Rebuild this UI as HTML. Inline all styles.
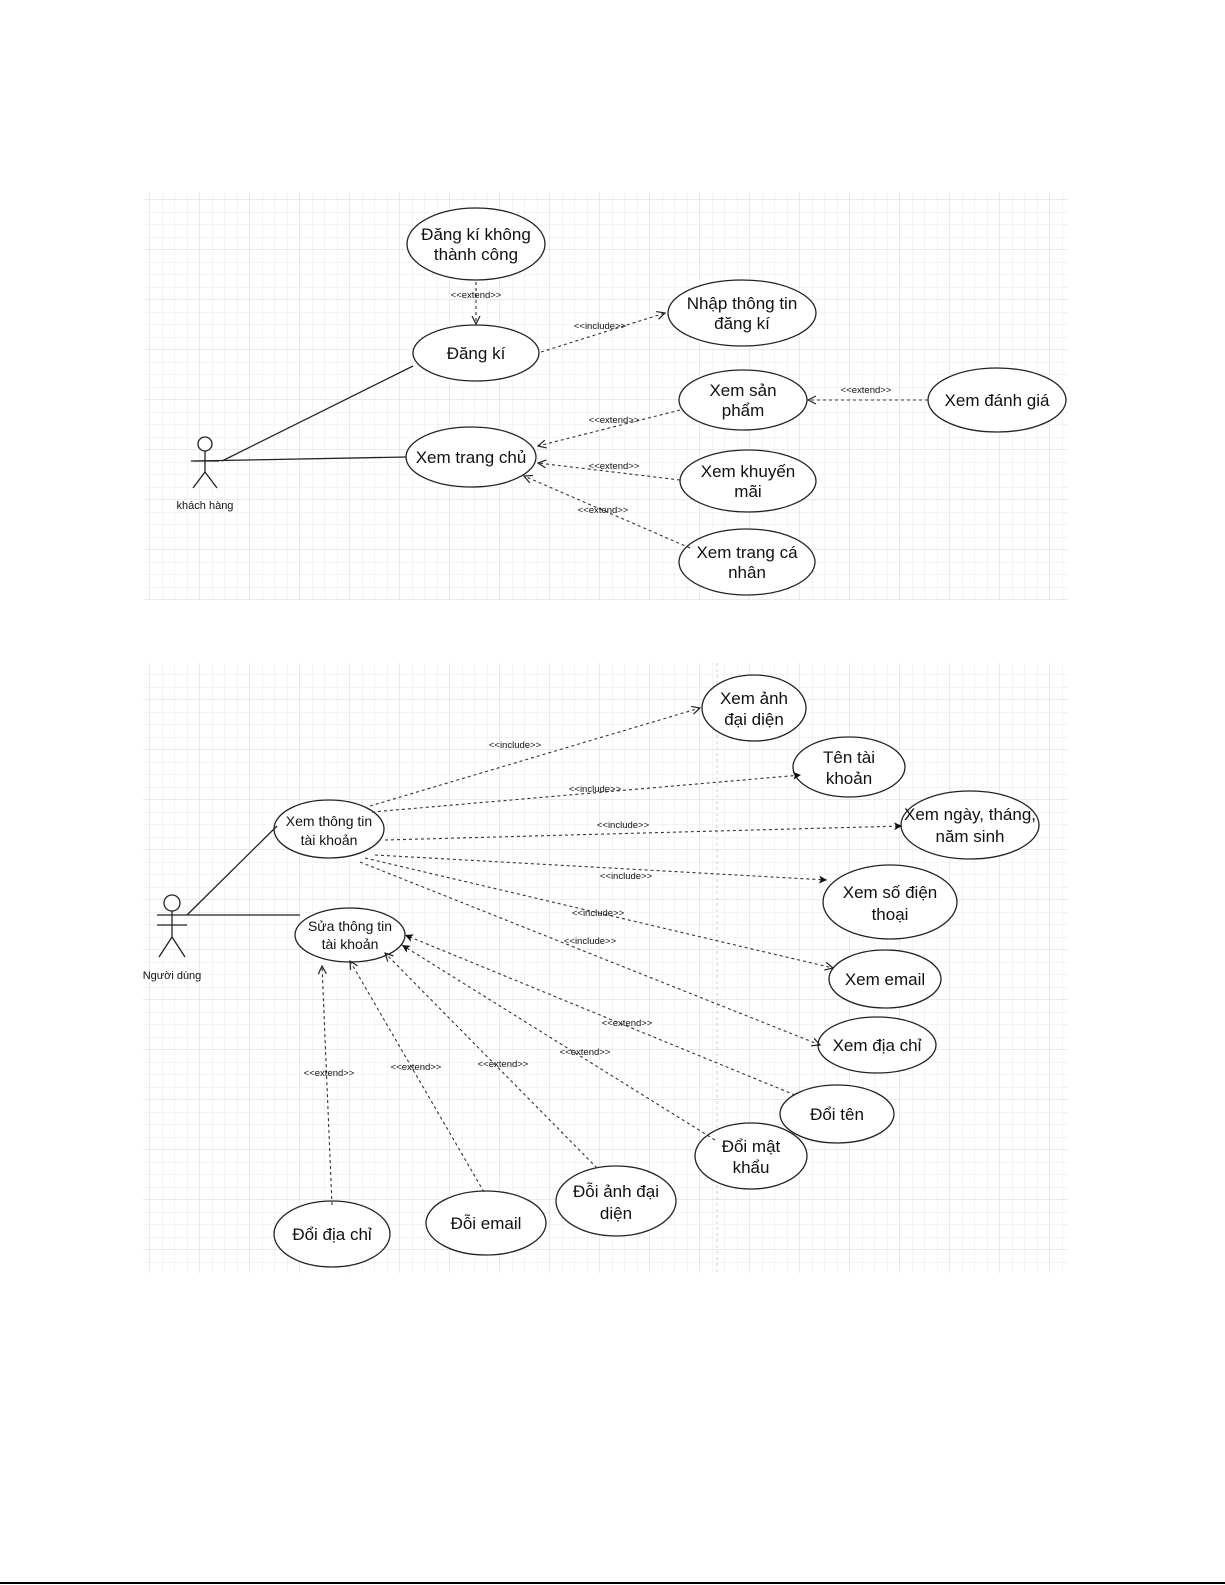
<!DOCTYPE html>
<html><head><meta charset="utf-8"><style>
html,body{margin:0;padding:0;background:#fff;}
svg{display:block;}
text{font-family:"Liberation Sans",sans-serif;fill:#111;}
</style></head><body>
<svg width="1225" height="1585" viewBox="0 0 1225 1585" xmlns="http://www.w3.org/2000/svg">
<defs>
<pattern id="g" width="12.5" height="12.5" patternUnits="userSpaceOnUse"><path d="M12.5 0V12.5H0" fill="none" stroke="#e8e8e8" stroke-width="1"/></pattern>
<pattern id="G" width="50" height="50" patternUnits="userSpaceOnUse"><rect width="50" height="50" fill="url(#g)"/><path d="M50 0V50H0" fill="none" stroke="#d6d6d6" stroke-width="1"/></pattern>
<marker id="a" markerWidth="10" markerHeight="10" refX="9" refY="5" orient="auto" markerUnits="userSpaceOnUse"><path d="M1 1L9 5L1 9" fill="none" stroke="#222" stroke-width="1.2"/></marker>
<marker id="f" markerWidth="10" markerHeight="10" refX="9" refY="5" orient="auto" markerUnits="userSpaceOnUse"><path d="M1 1L9 5L1 9L3 5Z" fill="#111"/></marker>
</defs>
<rect x="145" y="192" width="923" height="408" fill="url(#G)"/>
<rect x="143" y="663" width="925" height="610" fill="url(#G)"/>
<line x1="717" y1="663" x2="717" y2="1273" stroke="#ccc" stroke-dasharray="3,3"/>

<g stroke="#222" stroke-width="1.3" fill="#fff">
<!-- top -->
<ellipse cx="476" cy="244" rx="69" ry="36"/>
<ellipse cx="476" cy="353" rx="63" ry="28"/>
<ellipse cx="742" cy="313" rx="74" ry="33"/>
<ellipse cx="743" cy="400" rx="64" ry="30"/>
<ellipse cx="997" cy="400" rx="69" ry="32"/>
<ellipse cx="471" cy="457" rx="65" ry="30"/>
<ellipse cx="748" cy="481" rx="68" ry="31"/>
<ellipse cx="747" cy="562" rx="68" ry="33"/>
<!-- bottom -->
<ellipse cx="329" cy="829" rx="55" ry="29"/>
<ellipse cx="350" cy="935" rx="55" ry="27"/>
<ellipse cx="754" cy="708" rx="52" ry="33"/>
<ellipse cx="849" cy="767" rx="56" ry="30"/>
<ellipse cx="970" cy="825" rx="69" ry="34"/>
<ellipse cx="890" cy="902" rx="67" ry="37"/>
<ellipse cx="885" cy="979" rx="56" ry="29"/>
<ellipse cx="877" cy="1045" rx="59" ry="28"/>
<ellipse cx="837" cy="1114" rx="57" ry="29"/>
<ellipse cx="751" cy="1156" rx="56" ry="33"/>
<ellipse cx="616" cy="1201" rx="60" ry="35"/>
<ellipse cx="486" cy="1223" rx="60" ry="32"/>
<ellipse cx="332" cy="1234" rx="58" ry="33"/>
</g>

<!-- actors -->
<g stroke="#222" stroke-width="1.3" fill="#fff">
<circle cx="205" cy="444" r="7"/>
<path d="M205 451V472M191 461H219M205 472L193 488M205 472L217 488" fill="none"/>
<circle cx="172" cy="903" r="8"/>
<path d="M172 911V937M157 925H187M172 937L159 957M172 937L185 957" fill="none"/>
</g>

<g stroke="#222" stroke-width="1.3" fill="none">
<line x1="222" y1="461" x2="413" y2="366"/>
<line x1="195" y1="461" x2="406" y2="457"/>
<line x1="187" y1="915" x2="277" y2="826"/>
<line x1="157" y1="915" x2="300" y2="915"/>
</g>

<g stroke="#333" stroke-width="1.1" fill="none" stroke-dasharray="3,3">
<line x1="476" y1="282" x2="476" y2="324" marker-end="url(#a)"/>
<line x1="541" y1="352" x2="665" y2="313" marker-end="url(#a)"/>
<line x1="680" y1="410" x2="538" y2="446" marker-end="url(#a)"/>
<line x1="680" y1="480" x2="538" y2="463" marker-end="url(#a)"/>
<line x1="690" y1="548" x2="524" y2="476" marker-end="url(#a)"/>
<line x1="928" y1="400" x2="808" y2="400" marker-end="url(#a)"/>

<line x1="370" y1="806" x2="700" y2="708" marker-end="url(#a)"/>
<line x1="372" y1="812" x2="801" y2="775" marker-end="url(#f)"/>
<line x1="385" y1="840" x2="902" y2="826" marker-end="url(#f)"/>
<line x1="375" y1="855" x2="827" y2="880" marker-end="url(#f)"/>
<line x1="365" y1="858" x2="833" y2="968" marker-end="url(#a)"/>
<line x1="360" y1="862" x2="820" y2="1045" marker-end="url(#a)"/>

<line x1="795" y1="1095" x2="405" y2="935" marker-end="url(#f)"/>
<line x1="715" y1="1140" x2="402" y2="945" marker-end="url(#f)"/>
<line x1="597" y1="1168" x2="385" y2="953" marker-end="url(#a)"/>
<line x1="484" y1="1192" x2="350" y2="961" marker-end="url(#a)"/>
<line x1="332" y1="1205" x2="322" y2="966" marker-end="url(#a)"/>
</g>

<g font-size="9.5" text-anchor="middle" fill="#333">
<text x="476" y="298">&lt;&lt;extend&gt;&gt;</text>
<text x="600" y="329">&lt;&lt;include&gt;&gt;</text>
<text x="614" y="423">&lt;&lt;extend&gt;&gt;</text>
<text x="614" y="469">&lt;&lt;extend&gt;&gt;</text>
<text x="603" y="513">&lt;&lt;extend&gt;&gt;</text>
<text x="866" y="393">&lt;&lt;extend&gt;&gt;</text>
<text x="515" y="748">&lt;&lt;include&gt;&gt;</text>
<text x="595" y="792">&lt;&lt;include&gt;&gt;</text>
<text x="623" y="828">&lt;&lt;include&gt;&gt;</text>
<text x="626" y="879">&lt;&lt;include&gt;&gt;</text>
<text x="598" y="916">&lt;&lt;include&gt;&gt;</text>
<text x="590" y="944">&lt;&lt;include&gt;&gt;</text>
<text x="627" y="1026">&lt;&lt;extend&gt;&gt;</text>
<text x="585" y="1055">&lt;&lt;extend&gt;&gt;</text>
<text x="503" y="1067">&lt;&lt;extend&gt;&gt;</text>
<text x="416" y="1070">&lt;&lt;extend&gt;&gt;</text>
<text x="329" y="1076">&lt;&lt;extend&gt;&gt;</text>
</g>

<g font-size="11" text-anchor="middle">
<text x="205" y="509">khách hàng</text>
<text x="172" y="979">Người dùng</text>
</g>
<rect x="120" y="960" width="23" height="25" fill="#fff"/>

<g font-size="17" text-anchor="middle">
<text x="476" y="240">Đăng kí không</text><text x="476" y="260">thành công</text>
<text x="476" y="359">Đăng kí</text>
<text x="742" y="309">Nhập thông tin</text><text x="742" y="329">đăng kí</text>
<text x="743" y="396">Xem sản</text><text x="743" y="416">phẩm</text>
<text x="997" y="406">Xem đánh giá</text>
<text x="471" y="463">Xem trang chủ</text>
<text x="748" y="477">Xem khuyến</text><text x="748" y="497">mãi</text>
<text x="747" y="558">Xem trang cá</text><text x="747" y="578">nhân</text>

<text x="754" y="704">Xem ảnh</text><text x="754" y="725">đại diện</text>
<text x="849" y="763">Tên tài</text><text x="849" y="784">khoản</text>
<text x="970" y="820">Xem ngày, tháng,</text><text x="970" y="842">năm sinh</text>
<text x="890" y="898">Xem số điện</text><text x="890" y="920">thoại</text>
<text x="885" y="985">Xem email</text>
<text x="877" y="1051">Xem địa chỉ</text>
<text x="837" y="1120">Đổi tên</text>
<text x="751" y="1152">Đổi mật</text><text x="751" y="1173">khẩu</text>
<text x="616" y="1197">Đỗi ảnh đại</text><text x="616" y="1219">diện</text>
<text x="486" y="1229">Đỗi email</text>
<text x="332" y="1240">Đổi địa chỉ</text>
</g>
<g font-size="14" text-anchor="middle">
<text x="329" y="826">Xem thông tin</text><text x="329" y="845">tài khoản</text>
<text x="350" y="931">Sửa thông tin</text><text x="350" y="949">tài khoản</text>
</g>
<line x1="0" y1="1583" x2="1225" y2="1583" stroke="#000" stroke-width="2"/>
</svg>
</body></html>
